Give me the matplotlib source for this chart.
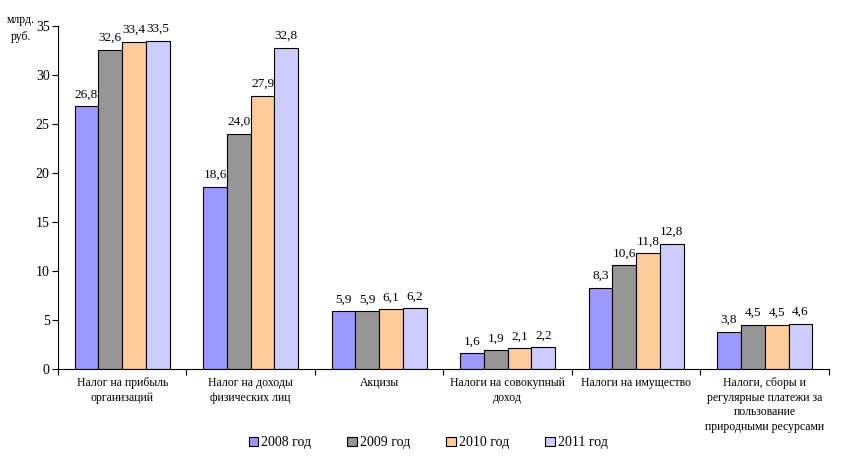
import matplotlib.pyplot as plt
import numpy as np

categories = ["Налог на прибыль\nорганизаций",
              "Налог на доходы\nфизических лиц",
              "Акцизы",
              "Налоги на совокупный\nдоход",
              "Налоги на имущество",
              "Налоги, сборы и\nрегулярные платежи за\nпользование\nприродными ресурсами"]
years = ["2008 год", "2009 год", "2010 год", "2011 год"]
v2008 = [26.8, 18.6, 5.9, 1.6, 8.3, 3.8]
v2009 = [32.6, 24.0, 5.9, 1.9, 10.6, 4.5]
v2010 = [33.4, 27.9, 6.1, 2.1, 11.8, 4.5]
v2011 = [33.5, 32.8, 6.2, 2.2, 12.8, 4.6]
colors = ["#9999FF", "#969696", "#FFCC99", "#CCCCFF"]

plt.rcParams['font.family'] = ['Liberation Serif', 'DejaVu Serif']

fig = plt.figure(figsize=(8.64, 4.69), dpi=100)
ax = fig.add_axes([0.067, 0.2132, 0.8925, 0.7314])

x = np.arange(len(categories))
w = 0.185
series = [v2008, v2009, v2010, v2011]
for i, vals in enumerate(series):
    pos = x + (i - 1.5) * w
    bars = ax.bar(pos, vals, w, color=colors[i], edgecolor="black", linewidth=0.8,
                  label=years[i])
    for b, v in zip(bars, vals):
        ax.text(b.get_x() + b.get_width() / 2, v + 0.6, f"{v:.1f}".replace(".", ","),
                ha="center", va="bottom", fontsize=9.5)

ax.set_xlim(-0.5, len(categories) - 0.5)
ax.set_ylim(0, 35)
ax.set_yticks(range(0, 36, 5))
ax.tick_params(axis="y", labelsize=10, length=4, pad=2)
ax.set_xticks(np.arange(len(categories) + 1) - 0.5)
ax.set_xticklabels([])
ax.tick_params(axis="x", length=4)
for xi, c in zip(x, categories):
    ax.text(xi, -0.8, c, ha="center", va="top", fontsize=8.5, linespacing=1.3)
ax.spines["top"].set_visible(False)
ax.spines["right"].set_visible(False)

fig.text(0.024, 0.97, "млрд.\nруб.", ha="center", va="top", fontsize=8.5, linespacing=1.5)

ax.legend(loc="upper center", bbox_to_anchor=(0.48, -0.16), ncol=4, frameon=False,
          fontsize=10, handlelength=0.7, handleheight=0.7, columnspacing=2.6,
          handletextpad=0.2)

fig.savefig("out.png", dpi=100)
